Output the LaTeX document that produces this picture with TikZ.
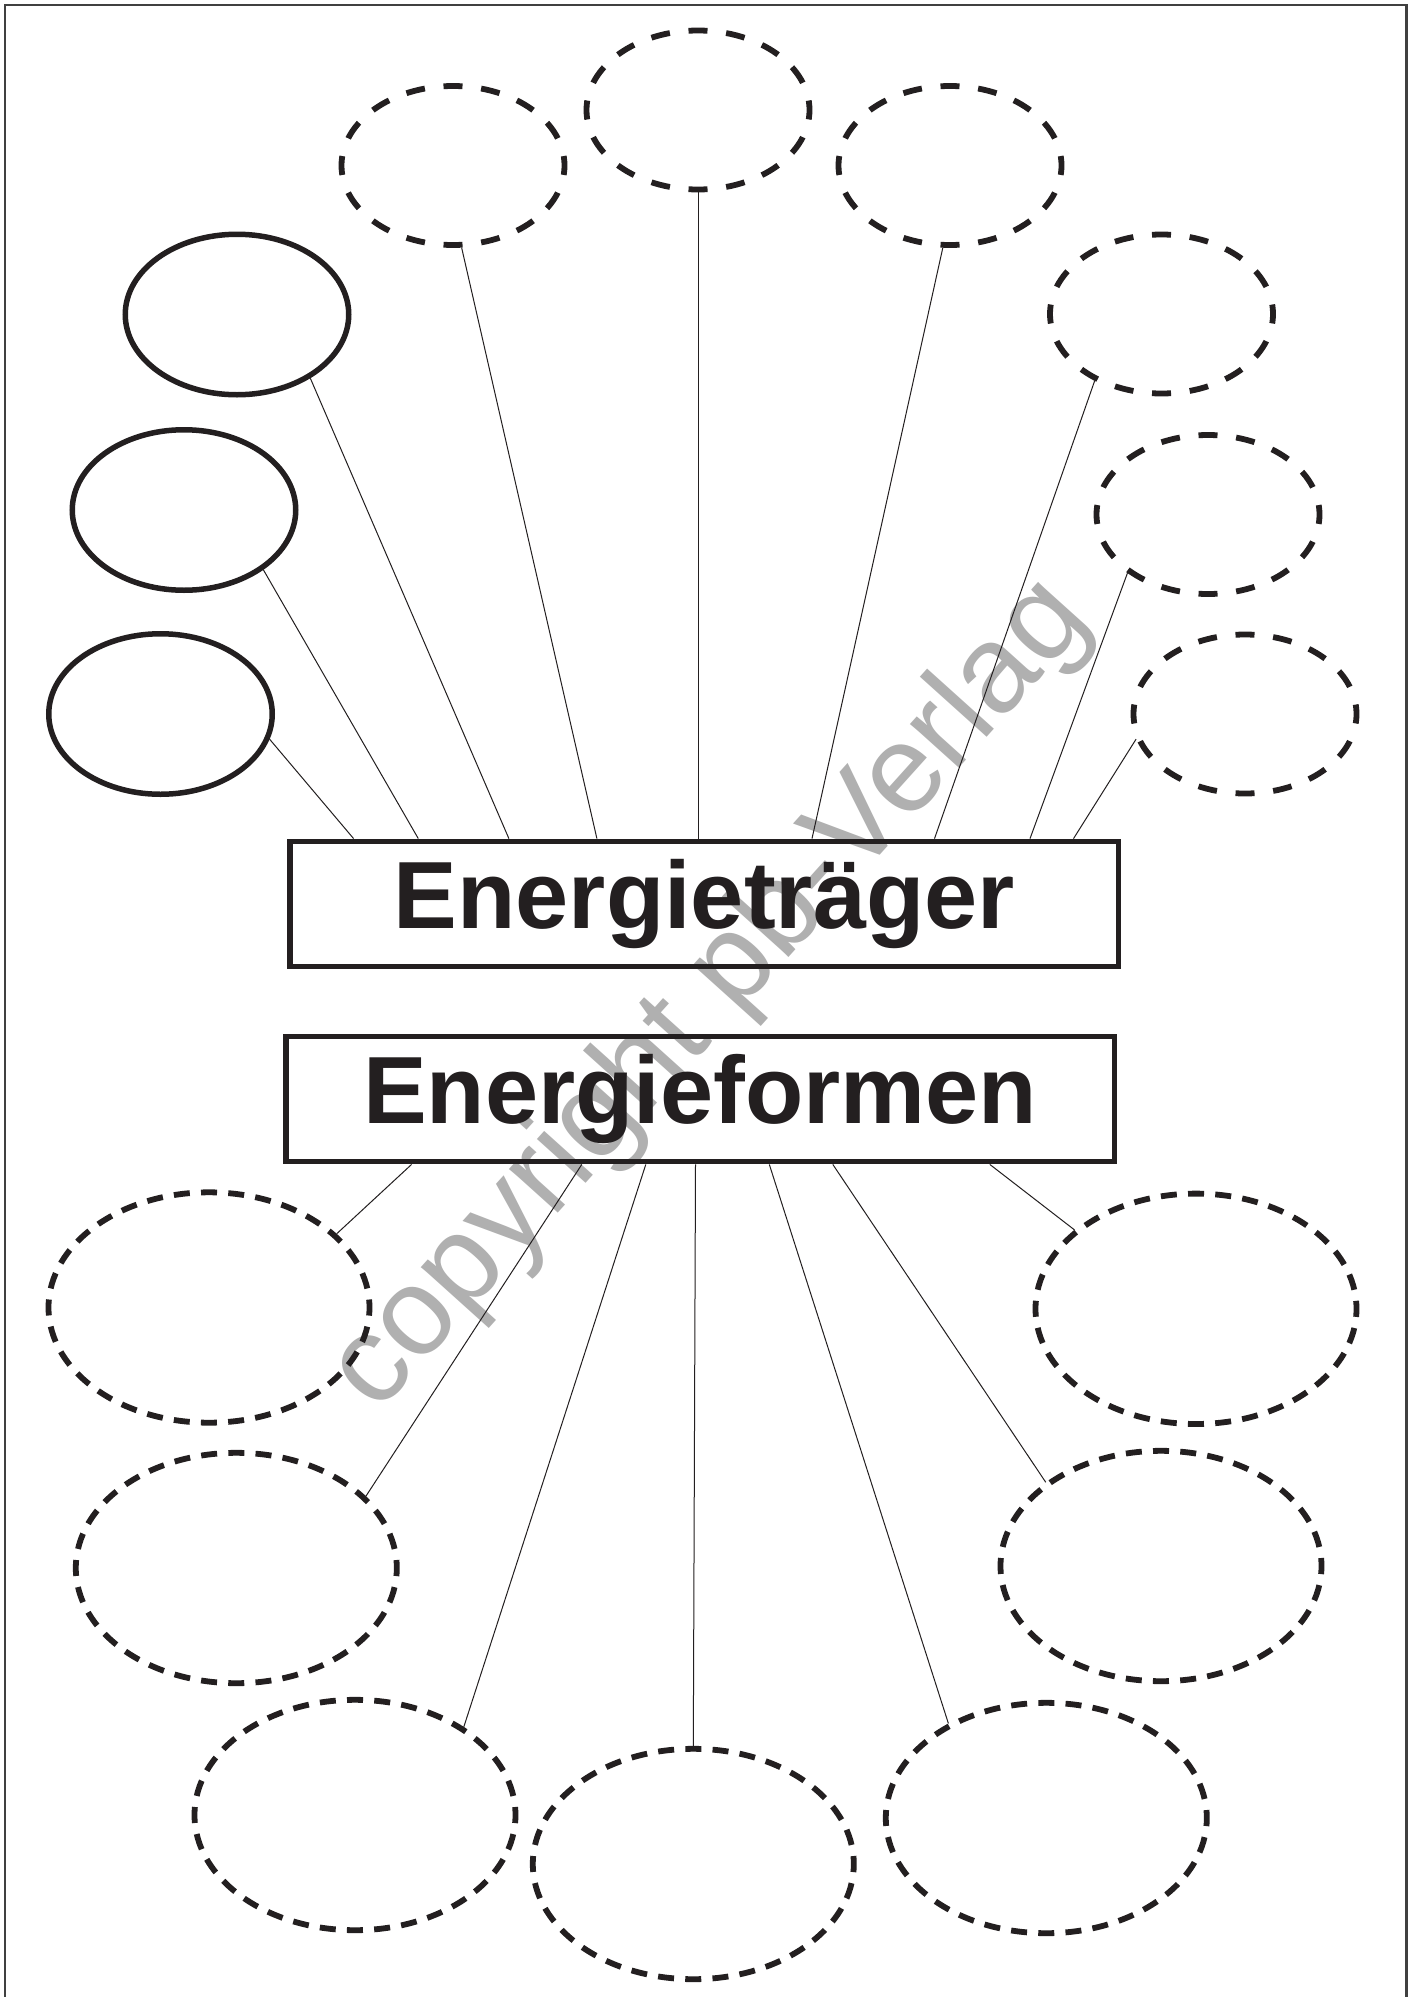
\documentclass[tikz,border=0pt]{standalone}
\usepackage{fontspec}
\newfontfamily\lblfont{Liberation Sans}
\usetikzlibrary{shapes.geometric,calc}
\definecolor{ink}{HTML}{231F20}
\definecolor{wm}{gray}{0.69}
\tikzset{
  soloval/.style={ellipse, draw=ink, line width=5.5pt, inner sep=0pt,
    minimum width=223.5pt, minimum height=160.5pt},
  smalloval/.style={ellipse, draw=ink, line width=5.8pt, inner sep=0pt,
    minimum width=223pt, minimum height=159pt,
    dash pattern=on 19pt off 18.77pt, dash phase=9.5pt},
  bigoval/.style={ellipse, draw=ink, line width=5.8pt, inner sep=0pt,
    minimum width=321pt, minimum height=230.4pt,
    dash pattern=on 16pt off 11.25pt, dash phase=8pt},
  titlebox/.style={rectangle, draw=ink, line width=5.8pt, inner sep=0pt,
    minimum width=828.5pt, minimum height=125pt,
    font=\lblfont\bfseries\fontsize{95.5}{110}\selectfont, text=ink},
  conn/.style={draw=ink, line width=1pt},
  watermark/.style={font=\lblfont\fontsize{124}{140}\selectfont, text=wm}
}
\begin{document}
\begin{tikzpicture}[x=1pt, y=-1pt]
  \useasboundingbox (0,0) rectangle (1410,1997);
  \fill[white] (0,0) rectangle (1410,1997);

  % page frame, open at the bottom
  \draw[black!75, line width=2.2pt] (5,2010) -- (5,5) -- (1406.5,5) -- (1406.5,2010);

  % publisher mark
  \node[watermark, rotate=48, anchor=center] (mark) at (711,996) {copyright pb-Verlag};

  % title boxes
  \node[titlebox] (carrier) at (704.25,904) {Energieträger};
  \node[titlebox] (forms) at (700.25,1099) {Energieformen};

  % carriers: three solid ovals on the left
  \node[soloval] (s1) at (237,314.5) {};
  \node[soloval] (s2) at (184,510) {};
  \node[soloval] (s3) at (160.5,714) {};

  % carriers: dashed ovals along the top and right
  \node[smalloval] (t1) at (453,165.5) {};
  \node[smalloval] (t2) at (698,110) {};
  \node[smalloval] (t3) at (950,165.5) {};
  \node[smalloval] (t4) at (1161.5,314) {};
  \node[smalloval] (t5) at (1208,514.5) {};
  \node[smalloval] (t6) at (1245,714) {};

  % forms: large dashed ovals around the bottom
  \node[bigoval] (f1) at (209,1307.5) {};
  \node[bigoval] (f2) at (236.3,1568) {};
  \node[bigoval] (f3) at (355,1815) {};
  \node[bigoval] (f4) at (693.3,1864) {};
  \node[bigoval] (f5) at (1046.3,1818) {};
  \node[bigoval] (f6) at (1161,1566) {};
  \node[bigoval] (f7) at (1196,1308.8) {};

  % spokes from the upper box
  \draw[conn] ($(carrier.north west)!(353.6,0)!(carrier.north east)$) -- (s3.-13.5);
  \draw[conn] ($(carrier.north west)!(418.3,0)!(carrier.north east)$) -- (s2.-37);
  \draw[conn] ($(carrier.north west)!(508.9,0)!(carrier.north east)$) -- (s1.-41);
  \draw[conn] ($(carrier.north west)!(596.9,0)!(carrier.north east)$) -- (t1.-84.3);
  \draw[conn] ($(carrier.north west)!(698,0)!(carrier.north east)$) -- (t2.-90);
  \draw[conn] ($(carrier.north west)!(812,0)!(carrier.north east)$) -- (t3.-95.6);
  \draw[conn] ($(carrier.north west)!(934.5,0)!(carrier.north east)$) -- (t4.-135.2);
  \draw[conn] ($(carrier.north west)!(1030,0)!(carrier.north east)$) -- (t5.-144);
  \draw[conn] ($(carrier.north west)!(1073.5,0)!(carrier.north east)$) -- (t6.-167.8);

  % spokes from the lower box
  \draw[conn] ($(forms.south west)!(411.6,0)!(forms.south east)$) -- (f1.30);
  \draw[conn] ($(forms.south west)!(581.8,0)!(forms.south east)$) -- (f2.29.6);
  \draw[conn] ($(forms.south west)!(645.8,0)!(forms.south east)$) -- (f3.39.8);
  \draw[conn] ($(forms.south west)!(695.5,0)!(forms.south east)$) -- (f4.90);
  \draw[conn] ($(forms.south west)!(769.3,0)!(forms.south east)$) -- (f5.136);
  \draw[conn] ($(forms.south west)!(832.8,0)!(forms.south east)$) -- (f6.144.7);
  \draw[conn] ($(forms.south west)!(989.8,0)!(forms.south east)$) -- (f7.147.4);
\end{tikzpicture}
\end{document}
